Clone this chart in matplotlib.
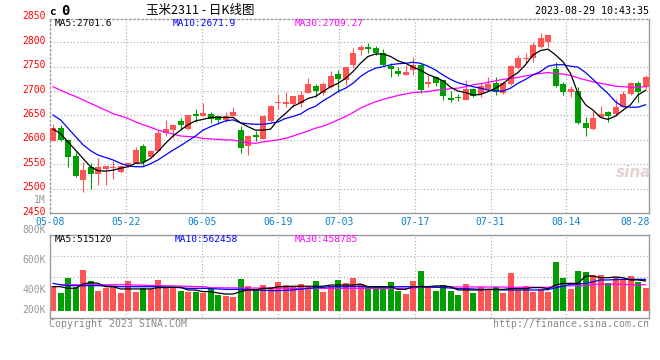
import numpy as np
import matplotlib
matplotlib.use("Agg")
import matplotlib.pyplot as plt
import matplotlib.transforms as mtransforms

# ---- data (80 trading days, 05-08 .. 08-29) ----
opens = [2598, 2624, 2600, 2567, 2518, 2545, 2531, 2540, 2542, 2535,
         2549, 2553, 2588, 2564, 2577, 2615, 2620, 2639, 2622, 2653,
         2649, 2654, 2648, 2641, 2649, 2620, 2588, 2610, 2602, 2639,
         2675, 2673, 2673, 2675, 2697, 2710, 2697, 2708, 2735, 2723,
         2754, 2784, 2791, 2789, 2779, 2751, 2742, 2733, 2743, 2754,
         2714, 2728, 2723, 2685, 2687, 2682, 2704, 2694, 2704, 2717,
         2697, 2714, 2747, 2766, 2767, 2790, 2800, 2745, 2715, 2699,
         2700, 2635, 2622, 2646, 2658, 2654, 2668, 2694, 2717, 2708]
highs = [2632, 2630, 2601, 2576, 2554, 2552, 2562, 2547, 2557, 2548,
         2553, 2586, 2591, 2580, 2620, 2641, 2632, 2645, 2651, 2663,
         2676, 2658, 2649, 2658, 2667, 2628, 2610, 2618, 2649, 2671,
         2694, 2699, 2689, 2700, 2726, 2714, 2719, 2741, 2743, 2749,
         2788, 2795, 2798, 2792, 2786, 2757, 2750, 2754, 2769, 2757,
         2733, 2731, 2723, 2700, 2695, 2723, 2706, 2717, 2728, 2728,
         2720, 2753, 2774, 2779, 2800, 2818, 2817, 2759, 2719, 2710,
         2709, 2646, 2659, 2669, 2659, 2683, 2700, 2719, 2721, 2733]
lows = [2597, 2597, 2545, 2524, 2494, 2499, 2508, 2508, 2520, 2533,
        2545, 2553, 2546, 2562, 2577, 2608, 2603, 2620, 2620, 2637,
        2649, 2634, 2632, 2637, 2646, 2574, 2569, 2598, 2602, 2637,
        2663, 2668, 2668, 2667, 2696, 2687, 2693, 2706, 2699, 2713,
        2747, 2773, 2779, 2774, 2751, 2728, 2730, 2733, 2733, 2697,
        2709, 2710, 2682, 2678, 2680, 2682, 2687, 2687, 2701, 2692,
        2695, 2713, 2745, 2757, 2760, 2788, 2790, 2709, 2691, 2687,
        2633, 2609, 2620, 2646, 2637, 2649, 2667, 2692, 2678, 2704]
closes = [2624, 2600, 2564, 2525, 2538, 2530, 2545, 2547, 2545, 2547,
          2553, 2579, 2554, 2577, 2614, 2622, 2630, 2630, 2651, 2648,
          2656, 2642, 2641, 2649, 2658, 2583, 2607, 2605, 2649, 2669,
          2677, 2678, 2689, 2692, 2714, 2700, 2714, 2730, 2724, 2749,
          2779, 2791, 2786, 2779, 2754, 2745, 2735, 2740, 2754, 2702,
          2719, 2717, 2689, 2682, 2686, 2704, 2690, 2710, 2715, 2699,
          2717, 2751, 2767, 2767, 2795, 2808, 2815, 2711, 2699, 2704,
          2635, 2625, 2644, 2653, 2648, 2668, 2694, 2717, 2699, 2728]

ma5 = [2622, 2613, 2596, 2579, 2562, 2545, 2537, 2536, 2538, 2542,
       2545, 2552, 2553, 2562, 2576, 2593, 2608, 2620, 2631, 2639,
       2642, 2646, 2646, 2646, 2646, 2635, 2627, 2620, 2620, 2622,
       2641, 2654, 2669, 2676, 2685, 2689, 2699, 2709, 2716, 2726,
       2740, 2757, 2771, 2776, 2776, 2771, 2762, 2757, 2749, 2743,
       2734, 2728, 2721, 2708, 2700, 2697, 2692, 2693, 2699, 2706,
       2715, 2728, 2738, 2754, 2774, 2783, 2786, 2774, 2760, 2736,
       2695, 2672, 2661, 2646, 2642, 2649, 2661, 2672, 2692, 2701.6]
ma10 = [2651, 2641, 2624, 2607, 2590, 2578, 2569, 2564, 2559, 2552,
        2547, 2545, 2545, 2551, 2559, 2569, 2579, 2588, 2598, 2608,
        2620, 2627, 2633, 2639, 2641, 2635, 2633, 2632, 2632, 2634,
        2637, 2644, 2648, 2653, 2663, 2669, 2680, 2689, 2699, 2706,
        2716, 2730, 2740, 2747, 2750, 2754, 2756, 2757, 2759, 2757,
        2751, 2743, 2733, 2724, 2717, 2713, 2709, 2706, 2702, 2700,
        2700, 2706, 2716, 2724, 2733, 2740, 2751, 2754, 2754, 2751,
        2749, 2738, 2724, 2709, 2695, 2678, 2668, 2667, 2667, 2671.9]
ma30 = [2709, 2702, 2695, 2689, 2682, 2675, 2668, 2661, 2654, 2649,
        2644, 2637, 2631, 2626, 2620, 2616, 2612, 2608, 2607, 2606,
        2603, 2602, 2601, 2600, 2600, 2596, 2594, 2593, 2596, 2598,
        2600, 2603, 2608, 2613, 2618, 2624, 2628, 2634, 2641, 2648,
        2656, 2665, 2672, 2678, 2683, 2687, 2691, 2694, 2697, 2698,
        2699, 2702, 2703, 2705, 2706, 2709, 2713, 2715, 2718, 2721,
        2724, 2726, 2728, 2731, 2734, 2736, 2738, 2736, 2735, 2732,
        2727, 2723, 2719, 2716, 2713, 2710, 2709, 2708, 2708, 2709.27]

# volume, in the units of the volume axis labels (K)
volume = [425, 382, 480, 422, 533, 460, 393, 413, 422, 382,
          460, 387, 416, 404, 467, 418, 422, 393, 387, 387,
          382, 404, 367, 358, 356, 473, 427, 404, 433, 422,
          453, 433, 422, 440, 422, 460, 389, 427, 467, 449,
          482, 440, 427, 422, 422, 453, 393, 373, 462, 527,
          422, 393, 433, 393, 367, 440, 382, 422, 400, 422,
          382, 516, 400, 427, 389, 404, 389, 589, 482, 407,
          529, 522, 500, 500, 444, 484, 471, 493, 456, 416]
vma5 = [422, 422, 411, 411, 440, 449, 445, 422, 422, 407,
        407, 407, 407, 407, 416, 416, 418, 418, 400, 400,
        389, 389, 380, 373, 373, 389, 400, 400, 411, 411,
        422, 422, 425, 425, 425, 425, 425, 433, 433, 433,
        433, 440, 422, 422, 422, 422, 404, 404, 422, 422,
        422, 427, 427, 422, 400, 400, 400, 400, 404, 404,
        404, 409, 409, 409, 416, 416, 409, 433, 444, 444,
        444, 493, 493, 482, 482, 487, 482, 467, 467, 460]
vma10 = [444, 435, 429, 429, 429, 429, 429, 427, 425, 422,
         422, 422, 422, 422, 422, 420, 418, 415, 411, 411,
         411, 409, 407, 404, 404, 404, 404, 400, 398, 396,
         396, 398, 400, 405, 411, 415, 418, 422, 422, 422,
         424, 424, 420, 420, 420, 420, 422, 422, 422, 422,
         420, 418, 416, 413, 409, 409, 407, 404, 404, 402,
         400, 400, 400, 400, 400, 400, 402, 415, 425, 438,
         440, 444, 455, 467, 467, 469, 471, 471, 471, 471]
vma30 = [np.nan, 435, 435, 435, 435, 435, 435, 435, 435, 435,
         435, 433, 432, 430, 429, 428, 427, 426, 424, 423,
         422, 415, 415, 414, 414, 413, 413, 413, 412, 412,
         412, 412, 411, 411, 411, 411, 411, 411, 411, 411,
         411, 411, 411, 411, 411, 411, 411, 411, 411, 420,
         420, 420, 420, 420, 420, 420, 420, 420, 420, 420,
         420, 418, 418, 418, 418, 418, 418, 418, 428, 428,
         428, 428, 438, 438, 438, 438, 438, 435, 435, 435]

date_labels = ["05-08", "05-22", "06-05", "06-19", "07-03", "07-17", "07-31", "08-14", "08-28"]
date_index = [0, 10, 20, 30, 38, 48, 58, 68, 78]
price_ticks = [2850, 2800, 2750, 2700, 2650, 2600, 2550, 2500, 2450]
vol_ticks = [1000, 800, 600, 400, 200]
vol_tick_labels = ["1M", "800K", "600K", "400K", "200K"]

# ---- styling ----
RED = "#ff5454"
GREEN = "#009e00"
GRID = "#a8a8a8"
FRAME = "#9a9a9a"
MONO = "DejaVu Sans Mono"
W, H = 660, 360

n = len(closes)
x = np.arange(n)
O, Hh, L, C = map(np.array, (opens, highs, lows, closes))
up = C >= O
colors = np.where(up, RED, GREEN)

fig = plt.figure(figsize=(W / 100, H / 100), dpi=100)
fig.patch.set_facecolor("white")

def fx(px):
    return px / W

def fy(py):
    return 1 - py / H

ax = fig.add_axes([fx(50), fy(213.3), fx(599.3), 194.3 / H])
axv = fig.add_axes([fx(50), fy(318.3), fx(599.3), 83.6 / H])

xlim = (-0.4, 79.5)
# sina puts date grid lines on a (n-1) spacing
grid_x = [k * n / (n - 1) - 0.4 for k in date_index]

for a in (ax, axv):
    a.set_xlim(*xlim)
    a.set_xticks([])
    a.set_yticks([])
    for s in a.spines.values():
        s.set_color(FRAME)
        s.set_linewidth(1.0)
    for gx in grid_x[1:-1]:
        a.axvline(gx, color=GRID, lw=0.8, ls=(0, (1, 2)), zorder=0)
ax.spines["top"].set_linestyle((0, (1, 2)))
ax.spines["left"].set_linestyle((0, (1, 2)))

# ---- price panel ----
ax.set_ylim(2449.6, 2847.7)
for p in price_ticks[1:-1]:
    ax.axhline(p, color=GRID, lw=0.8, ls=(0, (1, 2)), zorder=0)

ax.vlines(x, L, Hh, colors=colors, lw=0.8, zorder=2)
ax.bar(x, np.maximum(np.abs(C - O), 1.6), bottom=np.minimum(O, C), width=0.8,
       color=colors, linewidth=0, zorder=3)
ax.plot(x, ma30, color="#ff00ff", lw=0.9, zorder=4)
ax.plot(x, ma10, color="#0000ff", lw=0.9, zorder=4)
ax.plot(x, ma5, color="black", lw=0.9, zorder=5)

tr = mtransforms.blended_transform_factory(ax.transAxes, ax.transData)
for p in price_ticks:
    ax.text(-0.007, p + 3, str(p), transform=tr, ha="right", va="center",
            color="red", fontsize=7, family=MONO, clip_on=False)

# ---- volume panel ----
vol = np.array(volume)
base = 260
axv.set_ylim(211, 769)
for f in (0.25, 0.5, 0.75):
    axv.axhline(211 + f * (769 - 211), color=GRID, lw=0.8, ls=(0, (1, 2)), zorder=0)
axv.bar(x, vol - base, bottom=base, width=0.8, color=colors, linewidth=0, zorder=2)
axv.plot(x, vma30, color="#ff00ff", lw=0.9, zorder=3)
axv.plot(x, vma10, color="#0000ff", lw=0.9, zorder=3)
axv.plot(x, vma5, color="black", lw=0.9, zorder=4)

trv = mtransforms.blended_transform_factory(axv.transAxes, axv.transData)
for v, lab in zip(vol_ticks, vol_tick_labels):
    axv.text(-0.007, max(v, 267), lab, transform=trv, ha="right", va="center",
             color="#999999", fontsize=7, family=MONO, clip_on=False)

# date labels under the price panel
trd = mtransforms.blended_transform_factory(ax.transData, fig.transFigure)
for gx, lab in zip(grid_x, date_labels):
    if lab == date_labels[-1]:
        ax.text(xlim[1], fy(221.7), lab, transform=trd, ha="right", va="center",
                color="#0a80d0", fontsize=7, family=MONO, clip_on=False)
    else:
        ax.text(gx, fy(221.7), lab, transform=trd, ha="center", va="center",
                color="#0a80d0", fontsize=7, family=MONO, clip_on=False)

# ---- header texts ----
fig.text(fx(49), fy(12), "c", fontsize=8, weight="bold", family=MONO, va="center")
fig.text(fx(61), fy(11), "0", fontsize=10, weight="bold", family=MONO, va="center")
fig.text(fx(200), fy(10.5), "玉米2311 - 日K线图", fontsize=9, ha="center", va="center",
         family=["Noto Sans CJK SC", "DejaVu Sans"])
fig.text(fx(649), fy(11), "2023-08-29 10:43:35", fontsize=7.2, ha="right",
         va="center", family=MONO)

fig.text(fx(55), fy(24), "MA5:2701.6", fontsize=6.8, family=MONO, va="center")
fig.text(fx(173), fy(24), "MA10:2671.9", fontsize=6.8, family=MONO, va="center", color="#0000ff")
fig.text(fx(295), fy(24), "MA30:2709.27", fontsize=6.8, family=MONO, va="center", color="#ff00ff")

fig.text(fx(55), fy(239), "MA5:515120", fontsize=6.8, family=MONO, va="center")
fig.text(fx(175), fy(239), "MA10:562458", fontsize=6.8, family=MONO, va="center", color="#0000ff")
fig.text(fx(295), fy(239), "MA30:458785", fontsize=6.8, family=MONO, va="center", color="#ff00ff")

fig.text(fx(49), fy(324), "Copyright 2023 SINA.COM", fontsize=7.1, family=MONO,
         va="center", color="#888888")
fig.text(fx(649), fy(324), "http://finance.sina.com.cn", fontsize=7.1, family=MONO,
         va="center", ha="right", color="#888888")

# faint sina watermark
fig.text(fx(634), fy(172), "sina", fontsize=11, style="italic", weight="bold",
         ha="center", va="center", color="#e3d3d3")

fig.savefig("out.png", dpi=100, facecolor="white")
